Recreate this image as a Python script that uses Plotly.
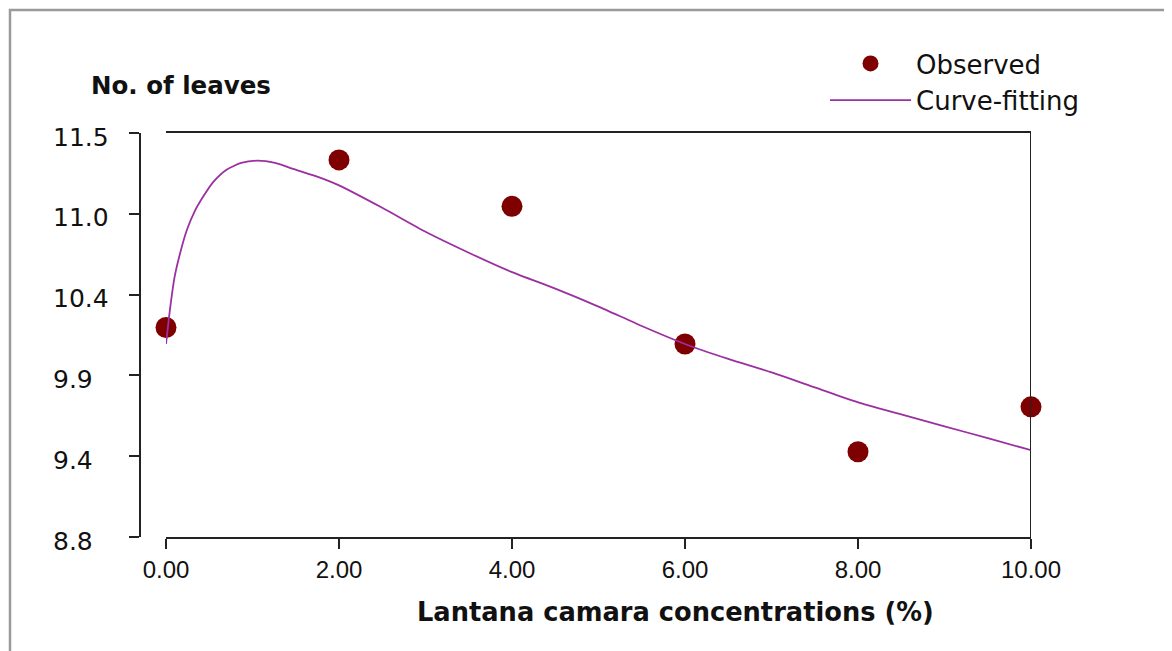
import plotly.graph_objects as go

# ---- data ----
obs_x = [0, 2, 4, 6, 8, 10]
obs_y = [10.20, 11.32, 11.01, 10.09, 9.37, 9.67]

curve_x = [0, 0.05, 0.1, 0.16, 0.24, 0.33, 0.43, 0.55, 0.7, 0.87, 1.06, 1.26, 1.47,
           1.74, 2.0, 2.5, 3.0, 3.5, 4.0, 4.5, 5.0, 5.5, 6.0, 6.5, 7.0, 7.5, 8.0,
           8.5, 9.0, 9.5, 10.0]
curve_y = [10.09, 10.34, 10.54, 10.69, 10.85, 10.975, 11.075, 11.175, 11.255, 11.30, 11.315,
           11.30, 11.26, 11.21, 11.15, 11.00, 10.84, 10.70, 10.57, 10.46, 10.34, 10.21,
           10.09, 9.99, 9.90, 9.80, 9.70, 9.62, 9.54, 9.46, 9.38]

x_tickvals = [0, 2, 4, 6, 8, 10]
x_ticktext = ["0.00", "2.00", "4.00", "6.00", "8.00", "10.00"]
y_tickvals = [8.8, 9.34, 9.88, 10.42, 10.96, 11.5]
y_ticktext = ["8.8", "9.4", "9.9", "10.4", "11.0", "11.5"]

OFF = 8  # page body margin
W, H = 1172 - OFF, 651 - OFF
ML = 140 - OFF
MR = W - (1031 - OFF)
MT = 133 - OFF
MB = 114
PW = W - ML - MR
PH = H - MT - MB


def px_x(p):
    """reference page x pixel -> paper x"""
    return (p - OFF - ML) / PW


def px_y(p):
    """reference page y pixel -> paper y"""
    return (H - MB - (p - OFF)) / PH


TXT = "#111111"

fig = go.Figure()
fig.add_trace(go.Scatter(
    x=obs_x, y=obs_y, mode="markers", name="Observed",
    marker=dict(symbol="circle", size=21, color="#7f0000"),
    cliponaxis=False,
))
fig.add_trace(go.Scatter(
    x=curve_x, y=curve_y, mode="lines", name="Curve-fitting",
    line=dict(color="#9b30a0", width=1.8, shape="spline", smoothing=0.6),
    cliponaxis=False,
))

annotations = []
for v, t in zip(y_tickvals, y_ticktext):
    annotations.append(dict(
        x=px_x(51), xref="paper", xanchor="left",
        y=v, yref="y", yanchor="middle", yshift=-4,
        text=t, showarrow=False,
        font=dict(family="DejaVu Sans", size=25, color=TXT),
    ))
annotations.append(dict(
    x=px_x(89), xref="paper", xanchor="left",
    y=px_y(86), yref="paper", yanchor="middle",
    text="<b>No. of leaves</b>", showarrow=False,
    font=dict(family="DejaVu Sans", size=24.5, color=TXT),
))
annotations.append(dict(
    x=px_x(675), xref="paper", xanchor="center",
    y=px_y(612), yref="paper", yanchor="middle",
    text="<b>Lantana camara concentrations (%)</b>", showarrow=False,
    font=dict(family="DejaVu Sans", size=25.7, color=TXT),
))

fig.update_layout(
    width=W, height=H,
    margin=dict(l=ML, r=MR, t=MT, b=MB),
    paper_bgcolor="white", plot_bgcolor="white",
    showlegend=True,
    legend=dict(
        x=px_x(825), xanchor="left", y=px_y(40), yanchor="top",
        font=dict(family="DejaVu Sans", size=26, color=TXT),
        itemwidth=81, bgcolor="rgba(0,0,0,0)", borderwidth=0,
        tracegroupgap=0,
    ),
    xaxis=dict(
        domain=[px_x(166), 1], range=[0, 10],
        tickvals=x_tickvals, ticktext=x_ticktext,
        showline=True, linecolor="#222222", linewidth=2, mirror=True,
        ticks="outside", ticklen=10, tickwidth=2, tickcolor="#222222",
        showgrid=False, zeroline=False,
        tickfont=dict(family="Liberation Sans", size=24, color=TXT),
    ),
    yaxis=dict(
        anchor="free", position=0, range=[8.8, 11.5],
        tickvals=y_tickvals, showticklabels=False,
        showline=True, linecolor="#222222", linewidth=2,
        ticks="outside", ticklen=10, tickwidth=2, tickcolor="#222222",
        showgrid=False, zeroline=False,
    ),
    annotations=annotations,
    shapes=[
        dict(type="line", xref="x", yref="paper", x0=10, x1=10, y0=0, y1=1,
             line=dict(color="#222222", width=2)),
        dict(type="rect", xref="paper", yref="paper",
             x0=px_x(10), x1=px_x(1250), y0=px_y(720), y1=px_y(10),
             line=dict(color="#9a9a9a", width=2.5), fillcolor="rgba(0,0,0,0)"),
    ],
)

fig.write_html("out.html")
